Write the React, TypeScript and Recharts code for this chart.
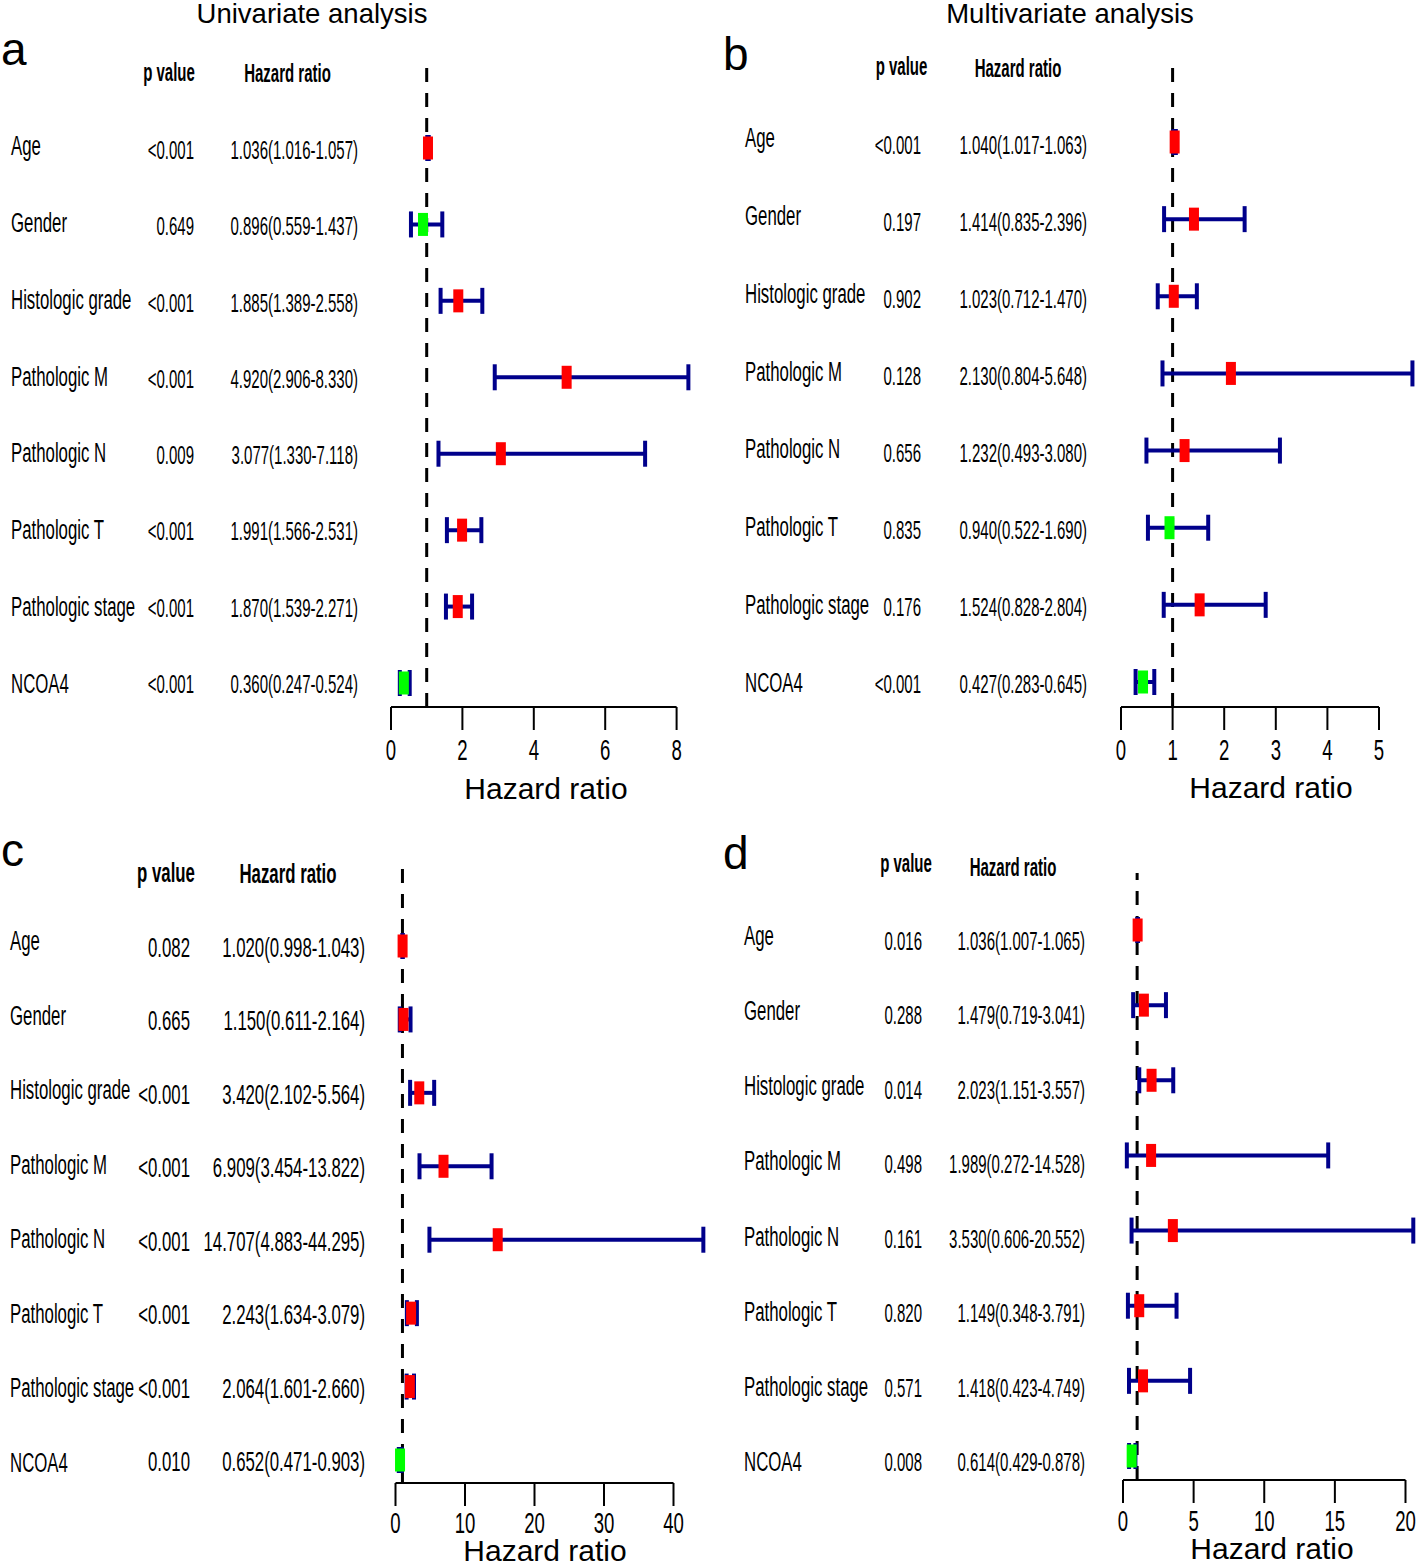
import React from 'react';
import { ScatterChart, Scatter, XAxis, YAxis, ReferenceLine, ErrorBar } from 'recharts';

// ---------- data ----------
const variables = ['Age', 'Gender', 'Histologic grade', 'Pathologic M', 'Pathologic N', 'Pathologic T', 'Pathologic stage', 'NCOA4'];

// a: univariate (top)
const uniTopP = ['<0.001', '0.649', '<0.001', '<0.001', '0.009', '<0.001', '<0.001', '<0.001'];
const uniTopHR = [1.036, 0.896, 1.885, 4.92, 3.077, 1.991, 1.87, 0.36];
const uniTopLow = [1.016, 0.559, 1.389, 2.906, 1.33, 1.566, 1.539, 0.247];
const uniTopHigh = [1.057, 1.437, 2.558, 8.33, 7.118, 2.531, 2.271, 0.524];
const uniTopTicks = [0, 2, 4, 6, 8];

// b: multivariate (top)
const multiTopP = ['<0.001', '0.197', '0.902', '0.128', '0.656', '0.835', '0.176', '<0.001'];
const multiTopHR = [1.04, 1.414, 1.023, 2.13, 1.232, 0.94, 1.524, 0.427];
const multiTopLow = [1.017, 0.835, 0.712, 0.804, 0.493, 0.522, 0.828, 0.283];
const multiTopHigh = [1.063, 2.396, 1.47, 5.648, 3.08, 1.69, 2.804, 0.645];
const multiTopTicks = [0, 1, 2, 3, 4, 5];

// c: univariate (bottom)
const uniBotP = ['0.082', '0.665', '<0.001', '<0.001', '<0.001', '<0.001', '<0.001', '0.010'];
const uniBotHR = [1.02, 1.15, 3.42, 6.909, 14.707, 2.243, 2.064, 0.652];
const uniBotLow = [0.998, 0.611, 2.102, 3.454, 4.883, 1.634, 1.601, 0.471];
const uniBotHigh = [1.043, 2.164, 5.564, 13.822, 44.295, 3.079, 2.66, 0.903];
const uniBotTicks = [0, 10, 20, 30, 40];

// d: multivariate (bottom)
const multiBotP = ['0.016', '0.288', '0.014', '0.498', '0.161', '0.820', '0.571', '0.008'];
const multiBotHR = [1.036, 1.479, 2.023, 1.989, 3.53, 1.149, 1.418, 0.614];
const multiBotLow = [1.007, 0.719, 1.151, 0.272, 0.606, 0.348, 0.423, 0.429];
const multiBotHigh = [1.065, 3.041, 3.557, 14.528, 20.552, 3.791, 4.749, 0.878];
const multiBotTicks = [0, 5, 10, 15, 20];

const headerP = 'p value';
const headerHR = 'Hazard ratio';
const axisTitle = 'Hazard ratio';

// ---------- style ----------
const FONT = '"Liberation Sans", Arial, Helvetica, sans-serif';
const RED = '#ff0000';
const GREEN = '#00ff00';
const CI = '#00008b';
const SX = 0.6;

type Cfg = {
  left: number; top: number; width: number; height: number;
  plotTop: number; axisY: number; x0: number; xLast: number; xMax: number;
  firstRowY: number; lastRowY: number;
  labelX: number; pRight: number; hrRight: number;
  labelFont: number; valueFont: number;
  labelDy: [number, number]; valueDy: [number, number];
  tickDy: number;
};

const cfgA: Cfg = { left: 0, top: 0, width: 709, height: 810, plotTop: 62, axisY: 707, x0: 391, xLast: 676.6, xMax: 8.5, firstRowY: 148, lastRowY: 683, labelX: 11, pRight: 194, hrRight: 358, labelFont: 28, valueFont: 25, labelDy: [7, 10], valueDy: [11, 10], tickDy: 53 };
const cfgB: Cfg = { left: 709, top: 0, width: 709, height: 810, plotTop: 65, axisY: 707, x0: 412, xLast: 670, xMax: 5.72, firstRowY: 142, lastRowY: 682, labelX: 36, pRight: 212, hrRight: 378, labelFont: 28, valueFont: 25, labelDy: [5, 10], valueDy: [12, 11], tickDy: 53 };
const cfgC: Cfg = { left: 0, top: 810, width: 709, height: 756, plotTop: 55, axisY: 673, x0: 395.5, xLast: 673.5, xMax: 45, firstRowY: 136, lastRowY: 650, labelX: 10, pRight: 190, hrRight: 365, labelFont: 28, valueFont: 28, labelDy: [4, 12], valueDy: [11, 11], tickDy: 50 };
const cfgD: Cfg = { left: 709, top: 810, width: 709, height: 756, plotTop: 63, axisY: 670, x0: 414, xLast: 696.5, xMax: 20.8, firstRowY: 120, lastRowY: 646, labelX: 35, pRight: 213, hrRight: 376, labelFont: 28, valueFont: 25, labelDy: [15, 15], valueDy: [20, 15], tickDy: 51 };

function CText(props: { x: number; y: number; size: number; anchor?: 'start' | 'middle' | 'end'; bold?: boolean; sx?: number; children: React.ReactNode }) {
  const { x, y, size, anchor = 'start', bold = false, sx = SX, children } = props;
  return (
    <text
      transform={`translate(${x},${y}) scale(${sx},1)`}
      fontSize={size}
      fontFamily={FONT}
      fontWeight={bold ? 'bold' : 'normal'}
      textAnchor={anchor}
      fill="#000"
    >
      {children}
    </text>
  );
}

function ForestPanel(props: { cfg: Cfg; pValues: string[]; hr: number[]; low: number[]; high: number[]; ticks: number[] }) {
  const { cfg, pValues, hr, low, high, ticks } = props;
  const n = variables.length;
  const rows = variables.map((name, i) => ({
    row: i + 1,
    name,
    p: pValues[i],
    hr: hr[i],
    err: [hr[i] - low[i], high[i] - hr[i]],
    text: `${hr[i].toFixed(3)}(${low[i].toFixed(3)}-${high[i].toFixed(3)})`,
  }));
  const rowIdx = rows.map((r) => r.row);
  const lastTick = ticks[ticks.length - 1];
  const unit = (cfg.xLast - cfg.x0) / lastTick;
  const plotRight = cfg.x0 + cfg.xMax * unit;
  const sp = (cfg.lastRowY - cfg.firstRowY) / (n - 1);
  const yLo = 1 - (cfg.firstRowY - cfg.plotTop) / sp;
  const yHi = n + (cfg.axisY - cfg.lastRowY) / sp;

  const rowTick = (tp: any) => {
    const i = Number(tp.payload?.value) - 1;
    const r = rows[i];
    if (!r) return <g />;
    const t = i / (n - 1);
    const ly = tp.y + cfg.labelDy[0] + t * (cfg.labelDy[1] - cfg.labelDy[0]);
    const vy = tp.y + cfg.valueDy[0] + t * (cfg.valueDy[1] - cfg.valueDy[0]);
    return (
      <g>
        <CText x={cfg.labelX} y={ly} size={cfg.labelFont}>{r.name}</CText>
        <CText x={cfg.pRight} y={vy} size={cfg.valueFont} anchor="end">{r.p}</CText>
        <CText x={cfg.hrRight} y={vy} size={cfg.valueFont} anchor="end">{r.text}</CText>
      </g>
    );
  };

  const xTick = (tp: any) => (
    <CText x={tp.x} y={cfg.axisY + cfg.tickDy} size={30} anchor="middle" sx={0.62}>
      {tp.payload?.value}
    </CText>
  );

  const boxShape = (sp2: any) => {
    const v = sp2.payload?.hr ?? sp2.hr;
    return <rect x={sp2.cx - 5} y={sp2.cy - 11.5} width={10} height={23} fill={v < 1 ? GREEN : RED} />;
  };

  return (
    <div style={{ position: 'absolute', left: cfg.left, top: cfg.top }}>
      <ScatterChart
        width={cfg.width}
        height={cfg.height}
        margin={{ top: cfg.plotTop, right: cfg.width - plotRight, bottom: 0, left: 0 }}
      >
        <XAxis
          type="number"
          dataKey="hr"
          domain={[0, cfg.xMax]}
          ticks={ticks}
          interval={0}
          axisLine={false}
          tickLine={{ stroke: '#000', strokeWidth: 2 }}
          tickSize={23}
          tick={xTick}
          height={cfg.height - cfg.axisY}
        />
        <YAxis
          type="number"
          dataKey="row"
          domain={[yLo, yHi]}
          reversed
          ticks={rowIdx}
          interval={0}
          axisLine={false}
          tickLine={false}
          tick={rowTick}
          width={cfg.x0}
        />
        <ReferenceLine
          segment={[{ x: 0, y: yHi }, { x: lastTick, y: yHi }]}
          stroke="#000"
          strokeWidth={2}
          ifOverflow="visible"
        />
        <ReferenceLine x={1} stroke="#000" strokeWidth={3} strokeDasharray="14 11" ifOverflow="visible" />
        <Scatter data={rows} isAnimationActive={false} shape={() => <g />}>
          <ErrorBar
            dataKey={(d: any) => (d && d.payload && d.payload.err) || (d && d.err)}
            direction="x"
            width={13}
            stroke={CI}
            strokeWidth={4}
            isAnimationActive={false}
          />
        </Scatter>
        <Scatter data={rows} isAnimationActive={false} shape={boxShape} />
      </ScatterChart>
    </div>
  );
}

function Overlay() {
  return (
    <svg width={1418} height={1566} style={{ position: 'absolute', left: 0, top: 0 }}>
      <text x={312} y={23} fontSize={27.5} fontFamily={FONT} textAnchor="middle">Univariate analysis</text>
      <text x={1070} y={23} fontSize={27.5} fontFamily={FONT} textAnchor="middle">Multivariate analysis</text>

      <text x={1} y={65} fontSize={46} fontFamily={FONT}>a</text>
      <text x={723} y={70} fontSize={46} fontFamily={FONT}>b</text>
      <text x={1} y={866} fontSize={46} fontFamily={FONT}>c</text>
      <text x={723} y={869} fontSize={46} fontFamily={FONT}>d</text>

      <CText x={169} y={81} size={25} anchor="middle" bold>{headerP}</CText>
      <CText x={287.5} y={82} size={25} anchor="middle" bold>{headerHR}</CText>
      <CText x={901.5} y={75} size={25} anchor="middle" bold>{headerP}</CText>
      <CText x={1018} y={77} size={25} anchor="middle" bold>{headerHR}</CText>
      <CText x={166} y={882} size={28} anchor="middle" bold>{headerP}</CText>
      <CText x={288} y={883} size={28} anchor="middle" bold>{headerHR}</CText>
      <CText x={906} y={872} size={25} anchor="middle" bold>{headerP}</CText>
      <CText x={1013} y={876} size={25} anchor="middle" bold>{headerHR}</CText>

      <text x={546} y={799} fontSize={30} fontFamily={FONT} textAnchor="middle">{axisTitle}</text>
      <text x={1271} y={798} fontSize={30} fontFamily={FONT} textAnchor="middle">{axisTitle}</text>
      <text x={545} y={1561} fontSize={30} fontFamily={FONT} textAnchor="middle">{axisTitle}</text>
      <text x={1272} y={1559} fontSize={30} fontFamily={FONT} textAnchor="middle">{axisTitle}</text>
    </svg>
  );
}

export default function App() {
  return (
    <div style={{ position: 'absolute', left: 0, top: 0, width: 1418, height: 1566, background: '#fff', overflow: 'hidden' }}>
      <Overlay />
      <ForestPanel cfg={cfgA} pValues={uniTopP} hr={uniTopHR} low={uniTopLow} high={uniTopHigh} ticks={uniTopTicks} />
      <ForestPanel cfg={cfgB} pValues={multiTopP} hr={multiTopHR} low={multiTopLow} high={multiTopHigh} ticks={multiTopTicks} />
      <ForestPanel cfg={cfgC} pValues={uniBotP} hr={uniBotHR} low={uniBotLow} high={uniBotHigh} ticks={uniBotTicks} />
      <ForestPanel cfg={cfgD} pValues={multiBotP} hr={multiBotHR} low={multiBotLow} high={multiBotHigh} ticks={multiBotTicks} />
    </div>
  );
}
